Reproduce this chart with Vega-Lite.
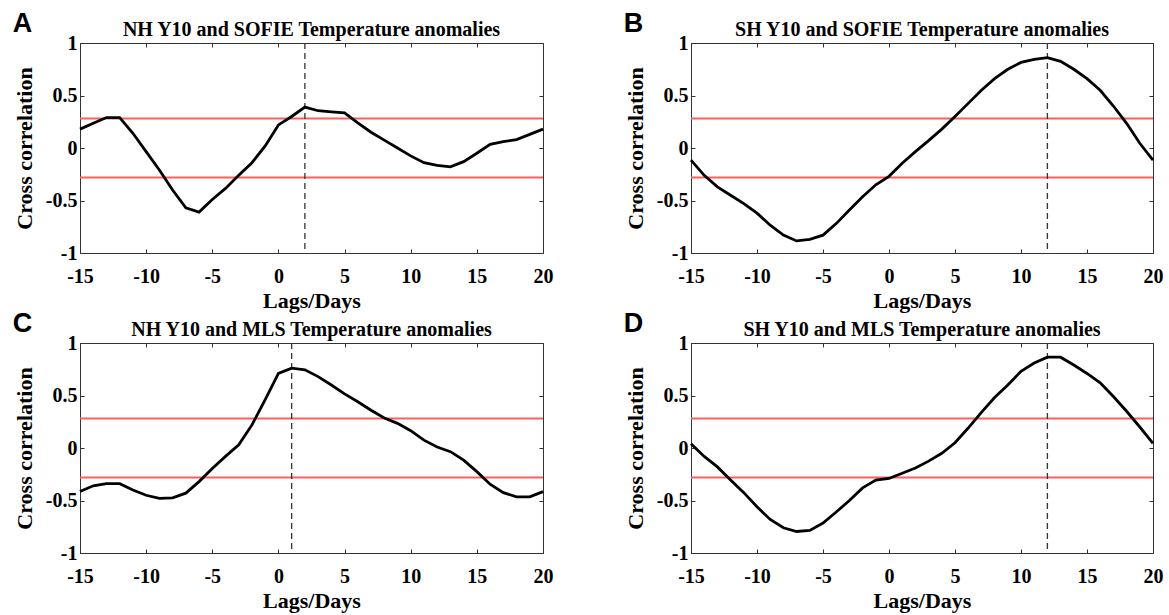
{
  "$schema": "https://vega.github.io/schema/vega-lite/v6.json",
  "background": "white",
  "padding": {"left": 12, "top": 9, "right": 5, "bottom": 5},
  "spacing": -3,
  "config": {
    "font": "Liberation Serif",
    "view": {"stroke": "#333", "strokeWidth": 1},
    "axis": {
      "grid": false,
      "domainColor": "#333",
      "tickColor": "#333",
      "tickSize": -4,
      "labelFont": "Liberation Serif",
      "labelFontWeight": "bold",
      "labelFontSize": 20,
      "labelColor": "black",
      "labelFlush": false,
      "labelOverlap": false,
      "titleFont": "Liberation Serif",
      "titleFontWeight": "bold",
      "titleFontSize": 22,
      "titleColor": "black"
    },
    "axisX": {"labelPadding": 17, "titlePadding": 4},
    "axisY": {"labelPadding": 7, "titlePadding": 9},
    "title": {"font": "Liberation Serif", "fontSize": 20, "fontWeight": "bold", "color": "black", "offset": -7},
    "concat": {"spacing": 0}
  },
  "datasets": {
    "A": [
      {"lag": -15, "r": 0.18}, {"lag": -14, "r": 0.235}, {"lag": -13, "r": 0.29}, {"lag": -12, "r": 0.29},
      {"lag": -11, "r": 0.14}, {"lag": -10, "r": -0.035}, {"lag": -9, "r": -0.21}, {"lag": -8, "r": -0.4},
      {"lag": -7, "r": -0.57}, {"lag": -6, "r": -0.61}, {"lag": -5, "r": -0.49}, {"lag": -4, "r": -0.385},
      {"lag": -3, "r": -0.26}, {"lag": -2, "r": -0.14}, {"lag": -1, "r": 0.02}, {"lag": 0, "r": 0.22},
      {"lag": 1, "r": 0.3}, {"lag": 2, "r": 0.39}, {"lag": 3, "r": 0.355}, {"lag": 4, "r": 0.345},
      {"lag": 5, "r": 0.335}, {"lag": 6, "r": 0.24}, {"lag": 7, "r": 0.15}, {"lag": 8, "r": 0.075},
      {"lag": 9, "r": 0.0}, {"lag": 10, "r": -0.075}, {"lag": 11, "r": -0.14}, {"lag": 12, "r": -0.165},
      {"lag": 13, "r": -0.18}, {"lag": 14, "r": -0.13}, {"lag": 15, "r": -0.05}, {"lag": 16, "r": 0.035},
      {"lag": 17, "r": 0.06}, {"lag": 18, "r": 0.08}, {"lag": 19, "r": 0.13}, {"lag": 20, "r": 0.18}
    ],
    "B": [
      {"lag": -15, "r": -0.115}, {"lag": -14, "r": -0.26}, {"lag": -13, "r": -0.37}, {"lag": -12, "r": -0.45},
      {"lag": -11, "r": -0.53}, {"lag": -10, "r": -0.62}, {"lag": -9, "r": -0.735}, {"lag": -8, "r": -0.83},
      {"lag": -7, "r": -0.885}, {"lag": -6, "r": -0.87}, {"lag": -5, "r": -0.83}, {"lag": -4, "r": -0.72},
      {"lag": -3, "r": -0.59}, {"lag": -2, "r": -0.465}, {"lag": -1, "r": -0.35}, {"lag": 0, "r": -0.27},
      {"lag": 1, "r": -0.145}, {"lag": 2, "r": -0.035}, {"lag": 3, "r": 0.07}, {"lag": 4, "r": 0.18},
      {"lag": 5, "r": 0.3}, {"lag": 6, "r": 0.425}, {"lag": 7, "r": 0.55}, {"lag": 8, "r": 0.66},
      {"lag": 9, "r": 0.75}, {"lag": 10, "r": 0.815}, {"lag": 11, "r": 0.845}, {"lag": 12, "r": 0.86},
      {"lag": 13, "r": 0.825}, {"lag": 14, "r": 0.75}, {"lag": 15, "r": 0.66}, {"lag": 16, "r": 0.55},
      {"lag": 17, "r": 0.4}, {"lag": 18, "r": 0.235}, {"lag": 19, "r": 0.045}, {"lag": 20, "r": -0.115}
    ],
    "C": [
      {"lag": -15, "r": -0.415}, {"lag": -14, "r": -0.36}, {"lag": -13, "r": -0.34}, {"lag": -12, "r": -0.34},
      {"lag": -11, "r": -0.4}, {"lag": -10, "r": -0.45}, {"lag": -9, "r": -0.48}, {"lag": -8, "r": -0.475},
      {"lag": -7, "r": -0.43}, {"lag": -6, "r": -0.32}, {"lag": -5, "r": -0.195}, {"lag": -4, "r": -0.08},
      {"lag": -3, "r": 0.03}, {"lag": -2, "r": 0.22}, {"lag": -1, "r": 0.46}, {"lag": 0, "r": 0.71},
      {"lag": 1, "r": 0.76}, {"lag": 2, "r": 0.745}, {"lag": 3, "r": 0.68}, {"lag": 4, "r": 0.6},
      {"lag": 5, "r": 0.515}, {"lag": 6, "r": 0.44}, {"lag": 7, "r": 0.36}, {"lag": 8, "r": 0.285},
      {"lag": 9, "r": 0.235}, {"lag": 10, "r": 0.165}, {"lag": 11, "r": 0.075}, {"lag": 12, "r": 0.01},
      {"lag": 13, "r": -0.035}, {"lag": 14, "r": -0.115}, {"lag": 15, "r": -0.225}, {"lag": 16, "r": -0.345},
      {"lag": 17, "r": -0.425}, {"lag": 18, "r": -0.465}, {"lag": 19, "r": -0.465}, {"lag": 20, "r": -0.415}
    ],
    "D": [
      {"lag": -15, "r": 0.04}, {"lag": -14, "r": -0.08}, {"lag": -13, "r": -0.18}, {"lag": -12, "r": -0.305},
      {"lag": -11, "r": -0.425}, {"lag": -10, "r": -0.56}, {"lag": -9, "r": -0.68}, {"lag": -8, "r": -0.76},
      {"lag": -7, "r": -0.795}, {"lag": -6, "r": -0.785}, {"lag": -5, "r": -0.715}, {"lag": -4, "r": -0.61},
      {"lag": -3, "r": -0.5}, {"lag": -2, "r": -0.38}, {"lag": -1, "r": -0.305}, {"lag": 0, "r": -0.29},
      {"lag": 1, "r": -0.24}, {"lag": 2, "r": -0.19}, {"lag": 3, "r": -0.125}, {"lag": 4, "r": -0.05},
      {"lag": 5, "r": 0.05}, {"lag": 6, "r": 0.19}, {"lag": 7, "r": 0.34}, {"lag": 8, "r": 0.48},
      {"lag": 9, "r": 0.6}, {"lag": 10, "r": 0.73}, {"lag": 11, "r": 0.81}, {"lag": 12, "r": 0.865},
      {"lag": 13, "r": 0.865}, {"lag": 14, "r": 0.79}, {"lag": 15, "r": 0.71}, {"lag": 16, "r": 0.62},
      {"lag": 17, "r": 0.49}, {"lag": 18, "r": 0.35}, {"lag": 19, "r": 0.2}, {"lag": 20, "r": 0.045}
    ],
    "sig": [{"r": 0.28}, {"r": -0.28}],
    "peaks": [{"panel": "A", "lag": 2}, {"panel": "B", "lag": 12}, {"panel": "C", "lag": 1}, {"panel": "D", "lag": 12}]
  },
  "vconcat": [
    {
      "spacing": 69,
      "hconcat": [
        {
          "title": {"text": "A", "anchor": "start", "frame": "bounds", "font": "Liberation Sans", "fontSize": 27, "fontWeight": "bold", "offset": -18, "color": "black"},
          "vconcat": [{
            "title": {"text": "NH Y10 and SOFIE Temperature anomalies"},
            "width": 463, "height": 210,
            "resolve": {"axis": {"x": "independent", "y": "independent"}},
            "layer": [
              {"data": {"name": "sig"}, "mark": {"type": "rule", "color": "#ff5c5c", "strokeWidth": 2},
               "encoding": {"y": {"field": "r", "type": "quantitative", "scale": {"domain": [-1, 1], "nice": false}, "axis": {"orient": "right", "labels": false, "title": null, "domain": false, "values": [-1, -0.5, 0, 0.5, 1]}}}},
              {"data": {"name": "peaks"}, "transform": [{"filter": "datum.panel == 'A'"}], "mark": {"type": "rule", "color": "#333", "strokeDash": [6, 4], "strokeWidth": 1.3},
               "encoding": {"x": {"field": "lag", "type": "quantitative", "scale": {"domain": [-15, 20], "nice": false}, "axis": {"orient": "top", "labels": false, "title": null, "domain": false, "values": [-15, -10, -5, 0, 5, 10, 15, 20]}}}},
              {"data": {"name": "A"}, "mark": {"type": "line", "color": "black", "strokeWidth": 2.8},
               "encoding": {
                 "x": {"field": "lag", "type": "quantitative", "scale": {"domain": [-15, 20], "nice": false}, "axis": {"orient": "bottom", "title": "Lags/Days", "values": [-15, -10, -5, 0, 5, 10, 15, 20], "labelExpr": "'' + datum.value"}},
                 "y": {"field": "r", "type": "quantitative", "scale": {"domain": [-1, 1], "nice": false}, "axis": {"orient": "left", "title": "Cross correlation", "values": [-1, -0.5, 0, 0.5, 1], "labelExpr": "'' + datum.value"}}
               }}
            ]
          }]
        },
        {
          "title": {"text": "B", "anchor": "start", "frame": "bounds", "font": "Liberation Sans", "fontSize": 27, "fontWeight": "bold", "offset": -18, "color": "black"},
          "vconcat": [{
            "title": {"text": "SH Y10 and SOFIE Temperature anomalies"},
            "width": 462, "height": 210,
            "resolve": {"axis": {"x": "independent", "y": "independent"}},
            "layer": [
              {"data": {"name": "sig"}, "mark": {"type": "rule", "color": "#ff5c5c", "strokeWidth": 2},
               "encoding": {"y": {"field": "r", "type": "quantitative", "scale": {"domain": [-1, 1], "nice": false}, "axis": {"orient": "right", "labels": false, "title": null, "domain": false, "values": [-1, -0.5, 0, 0.5, 1]}}}},
              {"data": {"name": "peaks"}, "transform": [{"filter": "datum.panel == 'B'"}], "mark": {"type": "rule", "color": "#333", "strokeDash": [6, 4], "strokeWidth": 1.3},
               "encoding": {"x": {"field": "lag", "type": "quantitative", "scale": {"domain": [-15, 20], "nice": false}, "axis": {"orient": "top", "labels": false, "title": null, "domain": false, "values": [-15, -10, -5, 0, 5, 10, 15, 20]}}}},
              {"data": {"name": "B"}, "mark": {"type": "line", "color": "black", "strokeWidth": 2.8},
               "encoding": {
                 "x": {"field": "lag", "type": "quantitative", "scale": {"domain": [-15, 20], "nice": false}, "axis": {"orient": "bottom", "title": "Lags/Days", "values": [-15, -10, -5, 0, 5, 10, 15, 20], "labelExpr": "'' + datum.value"}},
                 "y": {"field": "r", "type": "quantitative", "scale": {"domain": [-1, 1], "nice": false}, "axis": {"orient": "left", "title": "Cross correlation", "values": [-1, -0.5, 0, 0.5, 1], "labelExpr": "'' + datum.value"}}
               }}
            ]
          }]
        }
      ]
    },
    {
      "spacing": 69,
      "hconcat": [
        {
          "title": {"text": "C", "anchor": "start", "frame": "bounds", "font": "Liberation Sans", "fontSize": 27, "fontWeight": "bold", "offset": -18, "color": "black"},
          "vconcat": [{
            "title": {"text": "NH Y10 and MLS Temperature anomalies"},
            "width": 463, "height": 210,
            "resolve": {"axis": {"x": "independent", "y": "independent"}},
            "layer": [
              {"data": {"name": "sig"}, "mark": {"type": "rule", "color": "#ff5c5c", "strokeWidth": 2},
               "encoding": {"y": {"field": "r", "type": "quantitative", "scale": {"domain": [-1, 1], "nice": false}, "axis": {"orient": "right", "labels": false, "title": null, "domain": false, "values": [-1, -0.5, 0, 0.5, 1]}}}},
              {"data": {"name": "peaks"}, "transform": [{"filter": "datum.panel == 'C'"}], "mark": {"type": "rule", "color": "#333", "strokeDash": [6, 4], "strokeWidth": 1.3},
               "encoding": {"x": {"field": "lag", "type": "quantitative", "scale": {"domain": [-15, 20], "nice": false}, "axis": {"orient": "top", "labels": false, "title": null, "domain": false, "values": [-15, -10, -5, 0, 5, 10, 15, 20]}}}},
              {"data": {"name": "C"}, "mark": {"type": "line", "color": "black", "strokeWidth": 2.8},
               "encoding": {
                 "x": {"field": "lag", "type": "quantitative", "scale": {"domain": [-15, 20], "nice": false}, "axis": {"orient": "bottom", "title": "Lags/Days", "values": [-15, -10, -5, 0, 5, 10, 15, 20], "labelExpr": "'' + datum.value"}},
                 "y": {"field": "r", "type": "quantitative", "scale": {"domain": [-1, 1], "nice": false}, "axis": {"orient": "left", "title": "Cross correlation", "values": [-1, -0.5, 0, 0.5, 1], "labelExpr": "'' + datum.value"}}
               }}
            ]
          }]
        },
        {
          "title": {"text": "D", "anchor": "start", "frame": "bounds", "font": "Liberation Sans", "fontSize": 27, "fontWeight": "bold", "offset": -18, "color": "black"},
          "vconcat": [{
            "title": {"text": "SH Y10 and MLS Temperature anomalies"},
            "width": 462, "height": 210,
            "resolve": {"axis": {"x": "independent", "y": "independent"}},
            "layer": [
              {"data": {"name": "sig"}, "mark": {"type": "rule", "color": "#ff5c5c", "strokeWidth": 2},
               "encoding": {"y": {"field": "r", "type": "quantitative", "scale": {"domain": [-1, 1], "nice": false}, "axis": {"orient": "right", "labels": false, "title": null, "domain": false, "values": [-1, -0.5, 0, 0.5, 1]}}}},
              {"data": {"name": "peaks"}, "transform": [{"filter": "datum.panel == 'D'"}], "mark": {"type": "rule", "color": "#333", "strokeDash": [6, 4], "strokeWidth": 1.3},
               "encoding": {"x": {"field": "lag", "type": "quantitative", "scale": {"domain": [-15, 20], "nice": false}, "axis": {"orient": "top", "labels": false, "title": null, "domain": false, "values": [-15, -10, -5, 0, 5, 10, 15, 20]}}}},
              {"data": {"name": "D"}, "mark": {"type": "line", "color": "black", "strokeWidth": 2.8},
               "encoding": {
                 "x": {"field": "lag", "type": "quantitative", "scale": {"domain": [-15, 20], "nice": false}, "axis": {"orient": "bottom", "title": "Lags/Days", "values": [-15, -10, -5, 0, 5, 10, 15, 20], "labelExpr": "'' + datum.value"}},
                 "y": {"field": "r", "type": "quantitative", "scale": {"domain": [-1, 1], "nice": false}, "axis": {"orient": "left", "title": "Cross correlation", "values": [-1, -0.5, 0, 0.5, 1], "labelExpr": "'' + datum.value"}}
               }}
            ]
          }]
        }
      ]
    }
  ]
}
